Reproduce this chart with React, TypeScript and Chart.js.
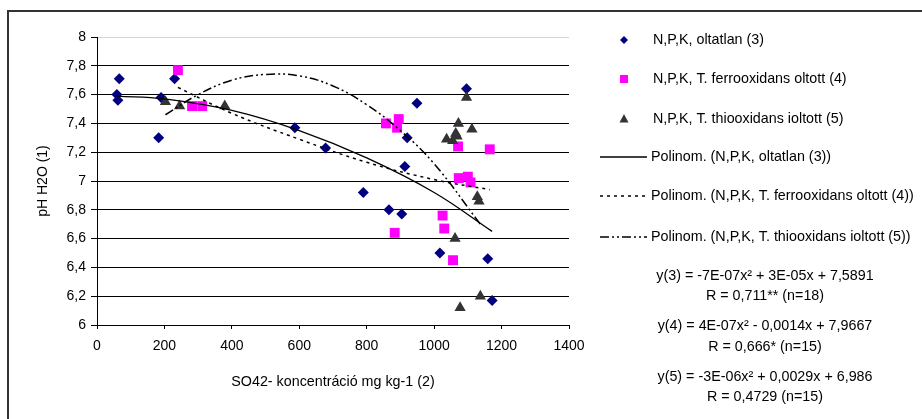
import React, { useEffect, useRef } from 'react';
import { Chart, registerables } from 'chart.js';

Chart.register(...registerables);

const FONT = '"Liberation Sans", Arial, sans-serif';

// N,P,K, oltatlan (3)
const npkX = [66, 59, 62, 183, 190, 230, 587, 678, 790, 866, 904, 913, 920, 949, 1017, 1096, 1159, 1172];
const npkY = [7.71, 7.6, 7.56, 7.3, 7.58, 7.71, 7.37, 7.23, 6.92, 6.8, 6.77, 7.1, 7.3, 7.54, 6.5, 7.64, 6.46, 6.17];

// N,P,K, T. ferrooxidans oltott (4)
const ferroX = [240, 282, 312, 857, 883, 890, 895, 1025, 1030, 1056, 1071, 1073, 1100, 1108, 1165];
const ferroY = [7.77, 7.52, 7.52, 7.4, 6.64, 7.37, 7.43, 6.76, 6.67, 6.45, 7.24, 7.02, 7.03, 6.99, 7.22];

// N,P,K, T. thiooxidans ioltott (5)
const thioX = [203, 245, 379, 1037, 1055, 1062, 1064, 1068, 1072, 1077, 1096, 1112, 1128, 1133, 1137];
const thioY = [7.55, 7.52, 7.52, 7.29, 7.28, 6.6, 7.33, 7.31, 7.4, 6.12, 7.58, 7.36, 6.89, 6.86, 6.2];

// Polynomial trend curves
const trend3X = [59, 200, 400, 600, 800, 1000, 1172];
const trend3Y = [7.59, 7.57, 7.49, 7.35, 7.16, 6.92, 6.65];
const trend4X = [240, 400, 600, 800, 1000, 1165];
const trend4Y = [7.65, 7.47, 7.29, 7.13, 7.01, 6.94];
const trend5X = [203, 300, 400, 500, 600, 700, 800, 900, 1000, 1137];
const trend5Y = [7.46, 7.6, 7.7, 7.74, 7.73, 7.66, 7.53, 7.35, 7.12, 6.7];

const xTitle = 'SO42- koncentráció mg kg-1 (2)';
const yTitle = 'pH H2O (1)';

const legendLabels = [
  'N,P,K, oltatlan (3)',
  'N,P,K, T. ferrooxidans oltott (4)',
  'N,P,K, T. thiooxidans ioltott (5)',
  'Polinom. (N,P,K, oltatlan (3))',
  'Polinom. (N,P,K, T. ferrooxidans oltott (4))',
  'Polinom. (N,P,K, T. thiooxidans ioltott (5))',
];

const equationLines = [
  'y(3) = -7E-07x² + 3E-05x + 7,5891',
  'R = 0,711** (n=18)',
  'y(4) = 4E-07x² - 0,0014x + 7,9667',
  'R = 0,666* (n=15)',
  'y(5) = -3E-06x² + 0,0029x + 6,986',
  'R = 0,4729 (n=15)',
];

const NAVY = '#000080';
const MAGENTA = '#FF00FF';
const DARK = '#333333';

const pts = (xs: number[], ys: number[]) => xs.map((x, i) => ({ x, y: ys[i] }));

const DASH4 = [3, 4];
const DASH5 = [9, 3, 2, 3, 2, 3];

const decorPlugin = {
  id: 'decor',
  beforeDraw(chart: any) {
    const ctx = chart.ctx;
    ctx.save();
    ctx.fillStyle = '#ffffff';
    ctx.fillRect(0, 0, chart.width, chart.height);
    ctx.fillStyle = '#333333';
    ctx.fillRect(7, 10, 2, chart.height - 10);
    ctx.fillRect(7, 10, chart.width - 7, 2);
    ctx.restore();
  },
  afterDraw(chart: any) {
    const ctx = chart.ctx;
    ctx.save();
    const mx = 624;
    const tx = 653;
    const rows = [40, 79, 119, 157, 196, 237];
    // markers
    ctx.fillStyle = NAVY;
    ctx.beginPath();
    ctx.moveTo(mx, rows[0] - 4);
    ctx.lineTo(mx + 4, rows[0]);
    ctx.lineTo(mx, rows[0] + 4);
    ctx.lineTo(mx - 4, rows[0]);
    ctx.closePath();
    ctx.fill();
    ctx.fillStyle = MAGENTA;
    ctx.fillRect(mx - 4, rows[1] - 4, 8, 8);
    ctx.fillStyle = DARK;
    ctx.beginPath();
    ctx.moveTo(mx, rows[2] - 5);
    ctx.lineTo(mx + 4.5, rows[2] + 3.5);
    ctx.lineTo(mx - 4.5, rows[2] + 3.5);
    ctx.closePath();
    ctx.fill();
    // line samples
    ctx.strokeStyle = '#000';
    ctx.lineWidth = 1.3;
    const seg = (y: number, dash: number[]) => {
      ctx.setLineDash(dash);
      ctx.beginPath();
      ctx.moveTo(600, y);
      ctx.lineTo(647, y);
      ctx.stroke();
    };
    seg(rows[3], []);
    seg(rows[4], DASH4);
    seg(rows[5], DASH5);
    ctx.setLineDash([]);
    // texts
    ctx.fillStyle = '#000';
    ctx.font = `14.3px ${FONT}`;
    ctx.textBaseline = 'middle';
    ctx.textAlign = 'left';
    legendLabels.forEach((t, i) => ctx.fillText(t, i < 3 ? tx : 651, rows[i]));
    ctx.textAlign = 'center';
    const eqY = [276, 296, 326, 347, 377, 397];
    equationLines.forEach((t, i) => ctx.fillText(t, 765, eqY[i]));
    ctx.restore();
  },
};

export default function App() {
  const ref = useRef<HTMLCanvasElement>(null);
  useEffect(() => {
    document.body.style.margin = '0';
    if (!ref.current) return;
    const chart = new Chart(ref.current, {
      type: 'scatter',
      data: {
        datasets: [
          {
            label: legendLabels[3],
            data: pts(trend3X, trend3Y),
            showLine: true,
            borderColor: '#000',
            borderWidth: 1.3,
            pointRadius: 0,
            tension: 0.4,
            order: 0,
          },
          {
            label: legendLabels[4],
            data: pts(trend4X, trend4Y),
            showLine: true,
            borderColor: '#000',
            borderWidth: 1.5,
            borderDash: DASH4,
            pointRadius: 0,
            tension: 0.4,
            order: 0,
          },
          {
            label: legendLabels[5],
            data: pts(trend5X, trend5Y),
            showLine: true,
            borderColor: '#000',
            borderWidth: 1.5,
            borderDash: DASH5,
            pointRadius: 0,
            tension: 0.4,
            order: 0,
          },
          {
            label: legendLabels[2],
            data: pts(thioX, thioY),
            pointStyle: 'triangle',
            pointRadius: 6.5,
            backgroundColor: DARK,
            borderColor: DARK,
            borderWidth: 0,
            order: 1,
          },
          {
            label: legendLabels[1],
            data: pts(ferroX, ferroY),
            pointStyle: 'rect',
            pointRadius: 7,
            backgroundColor: MAGENTA,
            borderColor: MAGENTA,
            borderWidth: 0,
            order: 2,
          },
          {
            label: legendLabels[0],
            data: pts(npkX, npkY),
            pointStyle: 'rectRot',
            pointRadius: 5.5,
            backgroundColor: NAVY,
            borderColor: NAVY,
            borderWidth: 0,
            order: 3,
          },
        ],
      },
      options: {
        responsive: false,
        animation: false,
        devicePixelRatio: 1,
        layout: { padding: { left: 0, top: 37, right: 353, bottom: 0 } },
        plugins: {
          legend: { display: false },
          tooltip: { enabled: false },
        },
        scales: {
          x: {
            type: 'linear',
            min: 0,
            max: 1400,
            ticks: {
              stepSize: 200,
              color: '#000',
              font: { size: 14, family: FONT },
              padding: 9,
              maxRotation: 0,
              autoSkip: false,
              callback: (v: any) => String(Math.round(Number(v))),
            },
            grid: { drawOnChartArea: false, drawTicks: true, tickLength: 4, tickColor: '#000' },
            border: { display: true, color: '#000', width: 1 },
            title: {
              display: true,
              text: xTitle,
              color: '#000',
              font: { size: 14.3, family: FONT },
              padding: { top: 0, bottom: 28 },
            },
            afterFit(s: any) {
              s.height = 94;
            },
          },
          y: {
            type: 'linear',
            min: 6,
            max: 8,
            ticks: {
              stepSize: 0.2,
              color: '#000',
              font: { size: 14, family: FONT },
              padding: 5,
              callback: (v: any) => {
                const r = Math.round(Number(v) * 10) / 10;
                return Number.isInteger(r) ? String(r) : r.toFixed(1).replace('.', ',');
              },
            },
            grid: {
              color: (c: any) => (c.tick && Math.abs(c.tick.value - 8) < 1e-6 ? '#d4d4d4' : '#000'),
              lineWidth: 1,
              drawTicks: true,
              tickLength: 6,
              tickColor: '#000',
            },
            border: { display: true, color: '#000', width: 1 },
            title: {
              display: true,
              text: yTitle,
              color: '#000',
              font: { size: 14, family: FONT },
              padding: { top: 35, bottom: 0 },
            },
            afterFit(s: any) {
              s.width = 97;
            },
          },
        },
      } as any,
      plugins: [decorPlugin],
    });
    return () => chart.destroy();
  }, []);
  return (
    <div style={{ width: 922, height: 419, position: 'relative', background: '#fff', overflow: 'hidden' }}>
      <canvas ref={ref} width={922} height={419} style={{ display: 'block', width: 922, height: 419 }} />
    </div>
  );
}
